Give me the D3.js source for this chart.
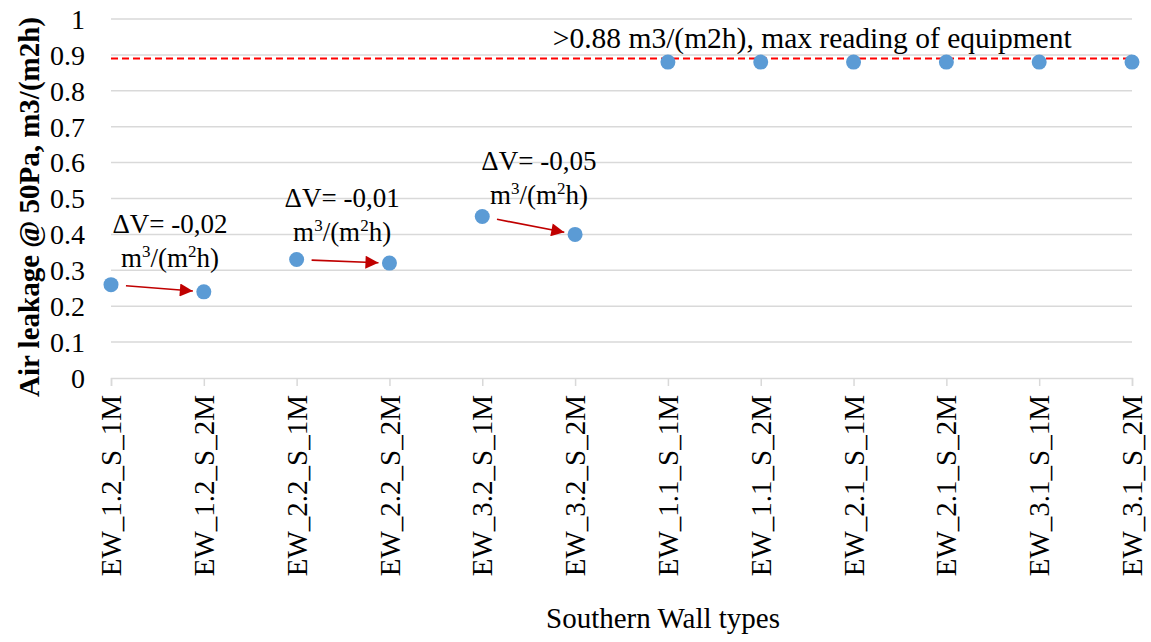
<!DOCTYPE html>
<html>
<head>
<meta charset="utf-8">
<script src="https://cdn.jsdelivr.net/npm/d3@7"></script>
<style>
    body { margin: 0; background: #fff; }
    svg text { font-family: "Times New Roman", "Liberation Serif", serif; fill: #000; }
</style>
</head>
<body>
<div id="plot-container"></div>
<script>
const categories = ["EW_1.2_S_1M", "EW_1.2_S_2M", "EW_2.2_S_1M", "EW_2.2_S_2M", "EW_3.2_S_1M", "EW_3.2_S_2M",
    "EW_1.1_S_1M", "EW_1.1_S_2M", "EW_2.1_S_1M", "EW_2.1_S_2M", "EW_3.1_S_1M", "EW_3.1_S_2M"];
const leakage = [0.26, 0.24, 0.33, 0.32, 0.45, 0.40, 0.88, 0.88, 0.88, 0.88, 0.88, 0.88];
const yTicks = [0, 0.1, 0.2, 0.3, 0.4, 0.5, 0.6, 0.7, 0.8, 0.9, 1];
const maxReading = 0.89;
const maxLabel = ">0.88 m3/(m2h), max reading of equipment";
const deltaLabels = ["ΔV= -0,02", "ΔV= -0,01", "ΔV= -0,05"];
const deltaPairs = [[0, 1], [2, 3], [4, 5]];

// where the annotation text sits (category index, value)
const deltaTextAt = [[0.636, 0.404], [2.49, 0.476], [4.61, 0.579]];

const margin = { top: 19, right: 19, bottom: 264, left: 111 };
const W = 1151, H = 642;
const width = W - margin.left - margin.right;
const height = H - margin.top - margin.bottom;

const svg = d3.select("#plot-container")
    .append("svg")
    .attr("width", W)
    .attr("height", H);

const defs = svg.append("defs");
defs.append("marker")
    .attr("id", "arrow")
    .attr("viewBox", "0 0 10 10")
    .attr("refX", 10)
    .attr("refY", 5)
    .attr("markerUnits", "userSpaceOnUse")
    .attr("markerWidth", 18)
    .attr("markerHeight", 13)
    .attr("orient", "auto")
    .append("path")
    .attr("d", "M0,0 L10,5 L0,10 z")
    .attr("fill", "#c00000");

const g = svg.append("g")
    .attr("transform", "translate(" + margin.left + "," + margin.top + ")");

const xScale = d3.scalePoint()
    .domain(categories)
    .range([0, width]);

const xIdx = d3.scaleLinear()
    .domain([0, categories.length - 1])
    .range([0, width]);

const yScale = d3.scaleLinear()
    .domain([0, 1])
    .range([height, 0]);

// gridlines
g.append("g")
    .selectAll("line")
    .data(yTicks.filter(d => d > 0))
    .enter()
    .append("line")
    .attr("x1", 0)
    .attr("x2", width)
    .attr("y1", d => yScale(d))
    .attr("y2", d => yScale(d))
    .attr("stroke", "#d9d9d9")
    .attr("stroke-width", 1.5);

// y tick labels
g.append("g")
    .selectAll("text")
    .data(yTicks)
    .enter()
    .append("text")
    .attr("x", -26)
    .attr("y", d => yScale(d))
    .attr("dy", "0.35em")
    .attr("text-anchor", "end")
    .style("font-size", "28px")
    .text(d => d3.format("~g")(d));

// x axis
const xAxis = g.append("g")
    .attr("transform", "translate(0," + height + ")")
    .call(d3.axisBottom(xScale).tickSize(8).tickPadding(17));
xAxis.select(".domain").attr("stroke", "#d9d9d9").attr("stroke-width", 1.5);
xAxis.selectAll(".tick line").attr("stroke", "#d9d9d9").attr("stroke-width", 1.5);
xAxis.selectAll(".tick text")
    .attr("transform", "rotate(-90)")
    .attr("x", -17)
    .attr("y", 0)
    .attr("dy", "0.33em")
    .style("text-anchor", "end")
    .style("font-size", "29px")
    .style("font-family", "'Times New Roman', 'Liberation Serif', serif")
    .attr("fill", "#000");

// max reading line
g.append("line")
    .attr("x1", 0)
    .attr("x2", width)
    .attr("y1", yScale(maxReading))
    .attr("y2", yScale(maxReading))
    .attr("stroke", "#ff0000")
    .attr("stroke-width", 2)
    .attr("stroke-dasharray", "7,4");

g.append("text")
    .attr("x", xIdx(4.76))
    .attr("y", yScale(maxReading) - 10)
    .style("font-size", "29.5px")
    .text(maxLabel);

// points
g.append("g")
    .selectAll("circle")
    .data(leakage)
    .enter()
    .append("circle")
    .attr("cx", (d, i) => xScale(categories[i]))
    .attr("cy", d => yScale(d))
    .attr("r", 7.5)
    .attr("fill", "#5b9bd5");

// delta arrows
deltaPairs.forEach(([a, b]) => {
    const x0 = xScale(categories[a]), y0 = yScale(leakage[a]);
    const x1 = xScale(categories[b]), y1 = yScale(leakage[b]);
    const len = Math.hypot(x1 - x0, y1 - y0);
    const ux = (x1 - x0) / len, uy = (y1 - y0) / len;
    g.append("line")
        .attr("x1", x0 + ux * 15)
        .attr("y1", y0 + uy * 15)
        .attr("x2", x1 - ux * 11)
        .attr("y2", y1 - uy * 11)
        .attr("stroke", "#c00000")
        .attr("stroke-width", 1.6)
        .attr("marker-end", "url(#arrow)");
});

// delta labels
deltaLabels.forEach((lab, i) => {
    const t = g.append("text")
        .attr("x", xIdx(deltaTextAt[i][0]))
        .attr("y", yScale(deltaTextAt[i][1]))
        .attr("text-anchor", "middle")
        .style("font-size", "27px");
    t.append("tspan").text(lab);
    const t2 = g.append("text")
        .attr("x", xIdx(deltaTextAt[i][0]))
        .attr("y", yScale(deltaTextAt[i][1]) + 34)
        .attr("text-anchor", "middle")
        .style("font-size", "27px");
    t2.append("tspan").text("m");
    t2.append("tspan").attr("dy", -10).style("font-size", "17px").text("3");
    t2.append("tspan").attr("dy", 10).text("/(m");
    t2.append("tspan").attr("dy", -10).style("font-size", "17px").text("2");
    t2.append("tspan").attr("dy", 10).text("h)");
});

// axis titles
svg.append("text")
    .attr("x", 663)
    .attr("y", 628)
    .attr("text-anchor", "middle")
    .style("font-size", "29px")
    .text("Southern Wall types");

svg.append("text")
    .attr("transform", "translate(39,207) rotate(-90)")
    .attr("text-anchor", "middle")
    .style("font-size", "29px")
    .style("font-weight", "bold")
    .text("Air leakage @ 50Pa, m3/(m2h)");
</script>
</body>
</html>
